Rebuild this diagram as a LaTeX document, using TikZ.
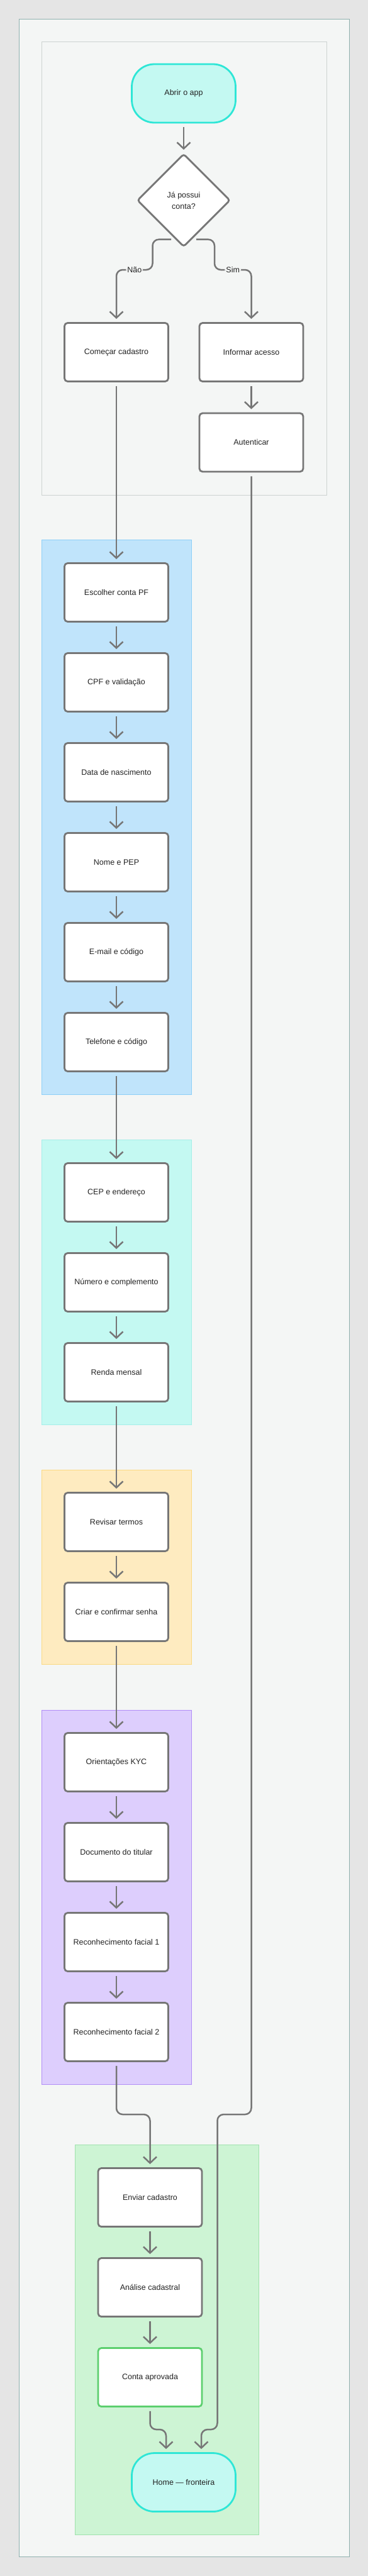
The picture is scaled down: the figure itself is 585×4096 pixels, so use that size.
\documentclass[tikz,border=0pt]{standalone}
\usepackage{fontspec}
\setmainfont{Liberation Sans}
\usepackage{xcolor}
\usetikzlibrary{arrows.meta, shapes.geometric}

\definecolor{canvas}{HTML}{E5E5E5}
\definecolor{paper}{HTML}{F4F6F5}
\definecolor{frameline}{HTML}{8FB0AE}
\definecolor{groupline}{HTML}{CDD3D1}
\definecolor{edgegray}{HTML}{767676}
\definecolor{ink}{HTML}{222222}
\definecolor{termfill}{HTML}{C4F9F2}
\definecolor{termline}{HTML}{2EE6D6}
\definecolor{bluefill}{HTML}{C0E4FB}
\definecolor{blueline}{HTML}{8DCFF7}
\definecolor{tealfill}{HTML}{C4F9F2}
\definecolor{tealline}{HTML}{A4EEE8}
\definecolor{yellowfill}{HTML}{FEEBC0}
\definecolor{yellowline}{HTML}{FBD982}
\definecolor{purplefill}{HTML}{DDCEFD}
\definecolor{purpleline}{HTML}{B18DF7}
\definecolor{greenfill}{HTML}{CDF4D4}
\definecolor{greenline}{HTML}{A0E2AE}
\definecolor{okline}{HTML}{5CCF6E}

\begin{document}
\begin{tikzpicture}[x=1pt, y=-1pt,
			>={Straight Barb[length=10pt, width=21pt]},
			font=\fontsize{12.5}{18}\selectfont,
			stepbox/.style={draw=edgegray, line width=2.8pt, fill=white, rounded corners=5pt,
				minimum width=165pt, minimum height=93pt, text=ink, inner sep=0pt},
			terminal/.style={stepbox, draw=termline, fill=termfill, rounded corners=36pt},
			decision/.style={diamond, aspect=1, draw=edgegray, line width=2.8pt, fill=white,
				rounded corners=4pt, minimum width=148pt, minimum height=148pt, inner sep=0pt,
				align=center, text=ink},
			flow/.style={->, draw=edgegray, line width=2.5pt, rounded corners=10pt,
				shorten <=6pt, shorten >=5pt},
			lane/.style={line width=1pt}]
			
			\useasboundingbox (0,0) rectangle (585,4096);
			\fill[canvas] (0,0) rectangle (585,4096);
			\draw[lane, draw=frameline, fill=paper] (30,30) rectangle (555,4065);
			
			% groups
			\draw[lane, draw=groupline, fill=paper] (66,66) rectangle (519,787);
			\draw[lane, draw=blueline, fill=bluefill] (66,858) rectangle (304,1740);
			\draw[lane, draw=tealline, fill=tealfill] (66,1812) rectangle (304,2265);
			\draw[lane, draw=yellowline, fill=yellowfill] (66,2337) rectangle (304,2646);
			\draw[lane, draw=purpleline, fill=purplefill] (66,2719) rectangle (304,3314);
			\draw[lane, draw=greenline, fill=greenfill] (119,3410) rectangle (411,4030);
			
			% entrada
			\node[terminal] (start) at (292,148.5) {Abrir o app};
			\node[decision] (decision) at (292,318.5) {Já possui\\conta?};
			\node[stepbox] (cadastro) at (185,560) {Começar cadastro};
			\node[stepbox] (acesso) at (399.5,560) {Informar acesso};
			\node[stepbox] (autenticar) at (399.5,703.5) {Autenticar};
			\coordinate (naoStart) at (272,380.7);
			\coordinate (simStart) at (312,380.7);
			
			% dados pessoais
			\node[stepbox] (escolher) at (185,942) {Escolher conta PF};
			\node[stepbox] (cpf) at (185,1085) {CPF e validação};
			\node[stepbox] (nascimento) at (185,1228) {Data de nascimento};
			\node[stepbox] (nome) at (185,1371) {Nome e PEP};
			\node[stepbox] (email) at (185,1514) {E-mail e código};
			\node[stepbox] (telefone) at (185,1657) {Telefone e código};
			
			% endereco
			\node[stepbox] (cep) at (185,1896) {CEP e endereço};
			\node[stepbox] (numero) at (185,2039) {Número e complemento};
			\node[stepbox] (renda) at (185,2182) {Renda mensal};
			
			% termos
			\node[stepbox] (termos) at (185,2420) {Revisar termos};
			\node[stepbox] (senha) at (185,2563) {Criar e confirmar senha};
			
			% kyc
			\node[stepbox] (kyc) at (185,2802) {Orientações KYC};
			\node[stepbox] (documento) at (185,2945) {Documento do titular};
			\node[stepbox] (facialA) at (185,3088) {Reconhecimento facial 1};
			\node[stepbox] (facialB) at (185,3231) {Reconhecimento facial 2};
			
			% fim
			\node[stepbox] (enviar) at (238.5,3494) {Enviar cadastro};
			\node[stepbox] (analise) at (238.5,3637) {Análise cadastral};
			\node[stepbox, draw=okline] (aprovada) at (238.5,3780) {Conta aprovada};
			\node[terminal] (home) at (292,3947) {Home — fronteira};
			
			\draw[flow] (start) -- (decision);
			\draw[flow, shorten <=0pt] (naoStart) -- (242.5,380.7) -- (242.5,429)
				-- node[fill=paper, inner sep=2pt, text=ink] {Não} (185,429) -- (cadastro.north);
			\draw[flow, shorten <=0pt] (simStart) -- (341,380.7) -- (341,429)
				-- node[fill=paper, inner sep=2pt, text=ink] {Sim} (399.5,429) -- (acesso.north);
			\draw[flow] (acesso) -- (autenticar);
			\draw[flow] (cadastro) -- (escolher);
			\draw[flow] (escolher) -- (cpf);
			\draw[flow] (cpf) -- (nascimento);
			\draw[flow] (nascimento) -- (nome);
			\draw[flow] (nome) -- (email);
			\draw[flow] (email) -- (telefone);
			\draw[flow] (telefone) -- (cep);
			\draw[flow] (cep) -- (numero);
			\draw[flow] (numero) -- (renda);
			\draw[flow] (renda) -- (termos);
			\draw[flow] (termos) -- (senha);
			\draw[flow] (senha) -- (kyc);
			\draw[flow] (kyc) -- (documento);
			\draw[flow] (documento) -- (facialA);
			\draw[flow] (facialA) -- (facialB);
			\draw[flow] (facialB.south) -- (185,3362) -- (238.5,3362) -- (enviar.north);
			\draw[flow] (enviar) -- (analise);
			\draw[flow] (analise) -- (aprovada);
			\draw[flow] (aprovada.south) -- (238.5,3863) -- (264,3863) -- ([xshift=-28pt]home.north);
			\draw[flow] (autenticar.south) -- (399.5,3362) -- (345.5,3362) -- (345.5,3863)
				-- (320,3863) -- ([xshift=28pt]home.north);
		\end{tikzpicture}
\end{document}
